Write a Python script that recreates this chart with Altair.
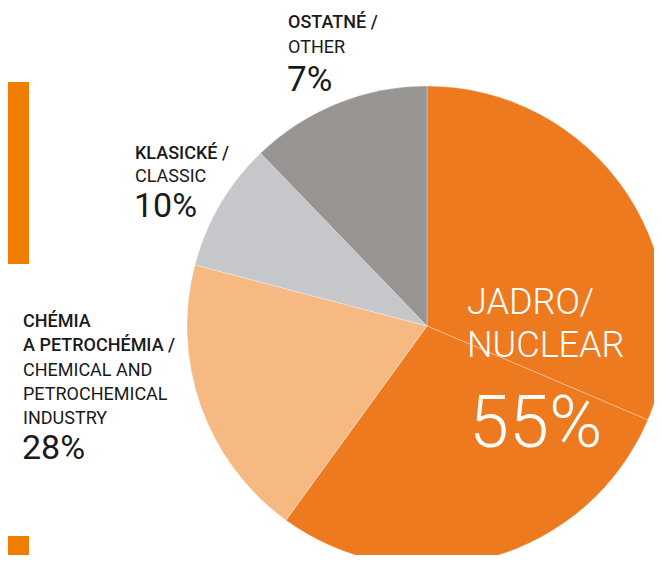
import altair as alt
import pandas as pd

# Pie slices (clockwise from 12 o'clock), values
segments = ["Jadro A", "Jadro B", "Chémia", "Klasické", "Ostatné"]
slice_values = [31.4, 28.6, 19.1, 8.7, 12.2]
slice_colors = ["#EE7A1F", "#EE7A1F", "#F6B982", "#C6C7CB", "#989492"]

# Printed labels
nuclear_lines = ["JADRO/", "NUCLEAR"]
nuclear_pct = "55%"
chem_sk = ["CHÉMIA", "A PETROCHÉMIA /"]
chem_en = ["CHEMICAL AND", "PETROCHEMICAL", "INDUSTRY"]
chem_pct = "28%"
classic_sk = ["KLASICKÉ /"]
classic_en = ["CLASSIC"]
classic_pct = "10%"
other_sk = ["OSTATNÉ /"]
other_en = ["OTHER"]
other_pct = "7%"

FONT = "Roboto"

pie_df = pd.DataFrame({"seg": segments, "value": slice_values, "idx": list(range(len(segments)))})

pie = alt.Chart(pie_df).mark_arc(radius=240, stroke="#ffffff", strokeWidth=0.6, strokeOpacity=0.5).encode(
    theta=alt.Theta("value:Q", stack=True),
    order=alt.Order("idx:Q"),
    color=alt.Color("seg:N", scale=alt.Scale(domain=segments, range=slice_colors), legend=None),
    x=alt.value(419),
    y=alt.value(318),
)


def label(lines, x, y, size, weight, color, line_height):
    df = pd.DataFrame({"t": ["\n".join(lines)]})
    return alt.Chart(df).mark_text(
        align="left", baseline="alphabetic", lineBreak="\n", lineHeight=line_height,
        font=FONT, fontSize=size, fontWeight=weight, color=color,
    ).encode(x=alt.value(x), y=alt.value(y), text="t:N")


bar_df = pd.DataFrame({"k": [0]})
bar1 = alt.Chart(bar_df).mark_rect(color="#EF7D00").encode(
    x=alt.value(0), x2=alt.value(21), y=alt.value(74), y2=alt.value(256))
bar2 = alt.Chart(bar_df).mark_rect(color="#EF7D00").encode(
    x=alt.value(0), x2=alt.value(21), y=alt.value(528), y2=alt.value(560))

dark = "#1a1a1a"
layers = [
    pie, bar1, bar2,
    label(nuclear_lines, 459, 306, 36, 300, "#ffffff", 43),
    label([nuclear_pct], 461, 439, 72, 300, "#ffffff", 72),
    label(chem_sk, 15, 319, 18, 500, dark, 24),
    label(chem_en, 15, 368, 18, 400, dark, 24),
    label([chem_pct], 14, 451, 34, 400, dark, 34),
    label(classic_sk, 127, 151, 18, 500, dark, 24),
    label(classic_en, 127, 174, 18, 400, dark, 24),
    label([classic_pct], 126, 209, 34, 400, dark, 34),
    label(other_sk, 280, 20, 18, 500, dark, 24),
    label(other_en, 280, 45, 18, 400, dark, 24),
    label([other_pct], 279, 83, 35, 400, dark, 35),
]

chart = alt.layer(*layers).properties(
    width=646, height=547, padding=0,
    autosize=alt.AutoSizeParams(type="none"),
).configure_view(stroke=None)

chart.save("out.html", embed_options={"renderer": "svg", "actions": False})
